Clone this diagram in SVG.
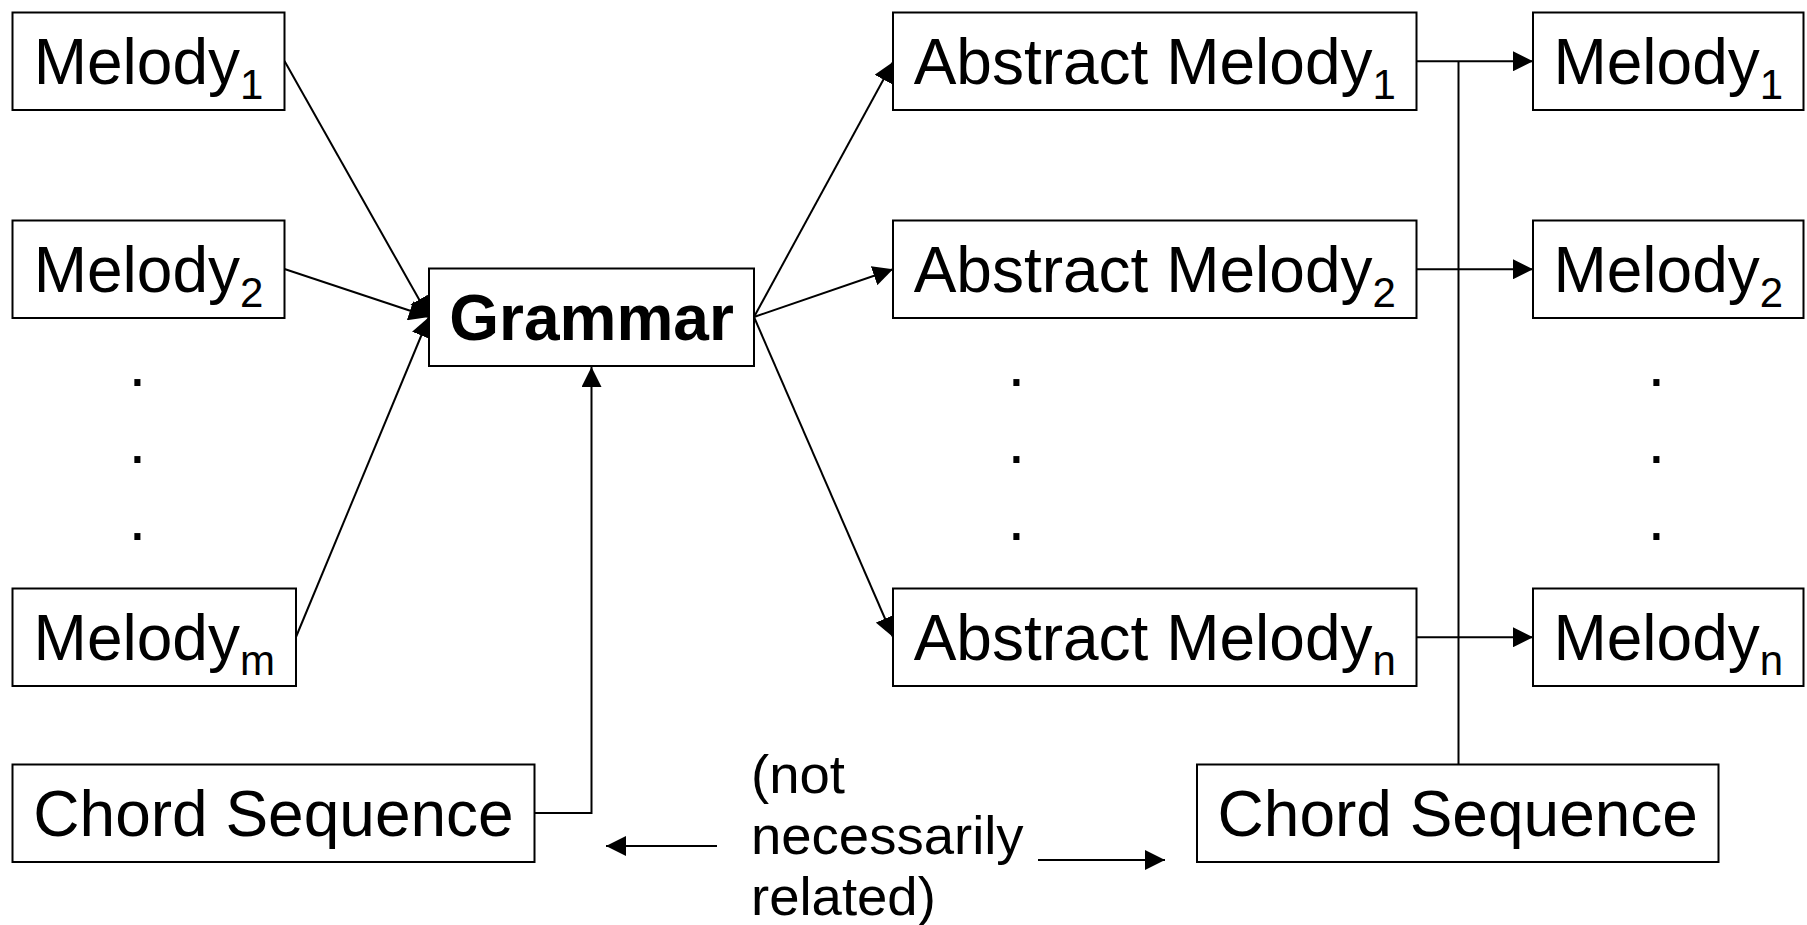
<svg xmlns="http://www.w3.org/2000/svg" width="1807" height="925" viewBox="0 0 1807 925">
<style>
.box{fill:#fff;stroke:#000;stroke-width:2}
.t{font-family:"Liberation Sans",Arial,sans-serif;font-size:64px;fill:#000;text-anchor:middle}
.b{font-weight:bold}
.sub{font-size:42px}
.lbl{font-family:"Liberation Sans",Arial,sans-serif;font-size:54.5px;fill:#000}
.c{fill:none;stroke:#000;stroke-width:2}
</style>
<defs>
<marker id="ah" markerUnits="userSpaceOnUse" markerWidth="20" markerHeight="20" viewBox="0 0 20 20" refX="20" refY="10" orient="auto">
<path d="M0,0 L20,10 L0,20 z" fill="#000"/>
</marker>
</defs>
<rect width="1807" height="925" fill="#fff"/>
<g id="connectors">
<line class="c" x1="284.5" y1="61" x2="429" y2="317" marker-end="url(#ah)"/>
<line class="c" x1="284.5" y1="269" x2="429" y2="317" marker-end="url(#ah)"/>
<line class="c" x1="296" y1="637" x2="429" y2="317" marker-end="url(#ah)"/>
<polyline class="c" points="534.5,813 591.5,813 591.5,367" marker-end="url(#ah)"/>
<line class="c" x1="754" y1="317" x2="893" y2="62" marker-end="url(#ah)"/>
<line class="c" x1="754" y1="317" x2="893" y2="269.25" marker-end="url(#ah)"/>
<line class="c" x1="754" y1="317" x2="893" y2="637" marker-end="url(#ah)"/>
<line class="c" x1="1416.5" y1="61.25" x2="1533" y2="61.25" marker-end="url(#ah)"/>
<line class="c" x1="1416.5" y1="269.25" x2="1533" y2="269.25" marker-end="url(#ah)"/>
<line class="c" x1="1416.5" y1="637.25" x2="1533" y2="637.25" marker-end="url(#ah)"/>
<line class="c" x1="1458.5" y1="61.25" x2="1458.5" y2="764.5"/>
<line class="c" x1="717" y1="846" x2="606" y2="846" marker-end="url(#ah)"/>
<line class="c" x1="1038" y1="860" x2="1165" y2="860" marker-end="url(#ah)"/>
</g>
<g id="melody1">
<rect class="box" x="12.5" y="12.5" width="272" height="97.5"/>
<text class="t" x="148.5" y="84.25">Melody<tspan class="sub" dy="15">1</tspan></text>
</g>
<g id="melody2">
<rect class="box" x="12.5" y="220.5" width="272" height="97.5"/>
<text class="t" x="148.5" y="292.25">Melody<tspan class="sub" dy="15">2</tspan></text>
</g>
<g id="dots-left">
<text class="t" x="137.5" y="386">.</text>
<text class="t" x="137.5" y="463">.</text>
<text class="t" x="137.5" y="540">.</text>
</g>
<g id="melodym">
<rect class="box" x="12.5" y="588.5" width="283.5" height="97.5"/>
<text class="t" x="154.25" y="660.25">Melody<tspan class="sub" dy="15">m</tspan></text>
</g>
<g id="chord-left">
<rect class="box" x="12.5" y="764.5" width="522" height="97.5"/>
<text class="t" x="273.5" y="836.25">Chord Sequence</text>
</g>
<g id="grammar">
<rect class="box" x="429" y="268.5" width="325" height="97.5"/>
<text class="t b" x="591.5" y="340.25">Grammar</text>
</g>
<g id="abstract1">
<rect class="box" x="893" y="12.5" width="523.5" height="97.5"/>
<text class="t" x="1154.75" y="84.25">Abstract Melody<tspan class="sub" dy="15">1</tspan></text>
</g>
<g id="abstract2">
<rect class="box" x="893" y="220.5" width="523.5" height="97.5"/>
<text class="t" x="1154.75" y="292.25">Abstract Melody<tspan class="sub" dy="15">2</tspan></text>
</g>
<g id="dots-mid">
<text class="t" x="1016.5" y="386">.</text>
<text class="t" x="1016.5" y="463">.</text>
<text class="t" x="1016.5" y="540">.</text>
</g>
<g id="abstractn">
<rect class="box" x="893" y="588.5" width="523.5" height="97.5"/>
<text class="t" x="1154.75" y="660.25">Abstract Melody<tspan class="sub" dy="15">n</tspan></text>
</g>
<g id="out1">
<rect class="box" x="1533" y="12.5" width="270.5" height="97.5"/>
<text class="t" x="1668.25" y="84.25">Melody<tspan class="sub" dy="15">1</tspan></text>
</g>
<g id="out2">
<rect class="box" x="1533" y="220.5" width="270.5" height="97.5"/>
<text class="t" x="1668.25" y="292.25">Melody<tspan class="sub" dy="15">2</tspan></text>
</g>
<g id="dots-right">
<text class="t" x="1656.5" y="386">.</text>
<text class="t" x="1656.5" y="463">.</text>
<text class="t" x="1656.5" y="540">.</text>
</g>
<g id="outn">
<rect class="box" x="1533" y="588.5" width="270.5" height="97.5"/>
<text class="t" x="1668.25" y="660.25">Melody<tspan class="sub" dy="15">n</tspan></text>
</g>
<g id="chord-right">
<rect class="box" x="1197" y="764.5" width="521.5" height="97.5"/>
<text class="t" x="1457.75" y="836.25">Chord Sequence</text>
</g>
<g id="note">
<text class="lbl"><tspan x="751" y="793">(not</tspan><tspan x="751" y="854">necessarily</tspan><tspan x="751" y="915">related)</tspan></text>
</g>
</svg>
